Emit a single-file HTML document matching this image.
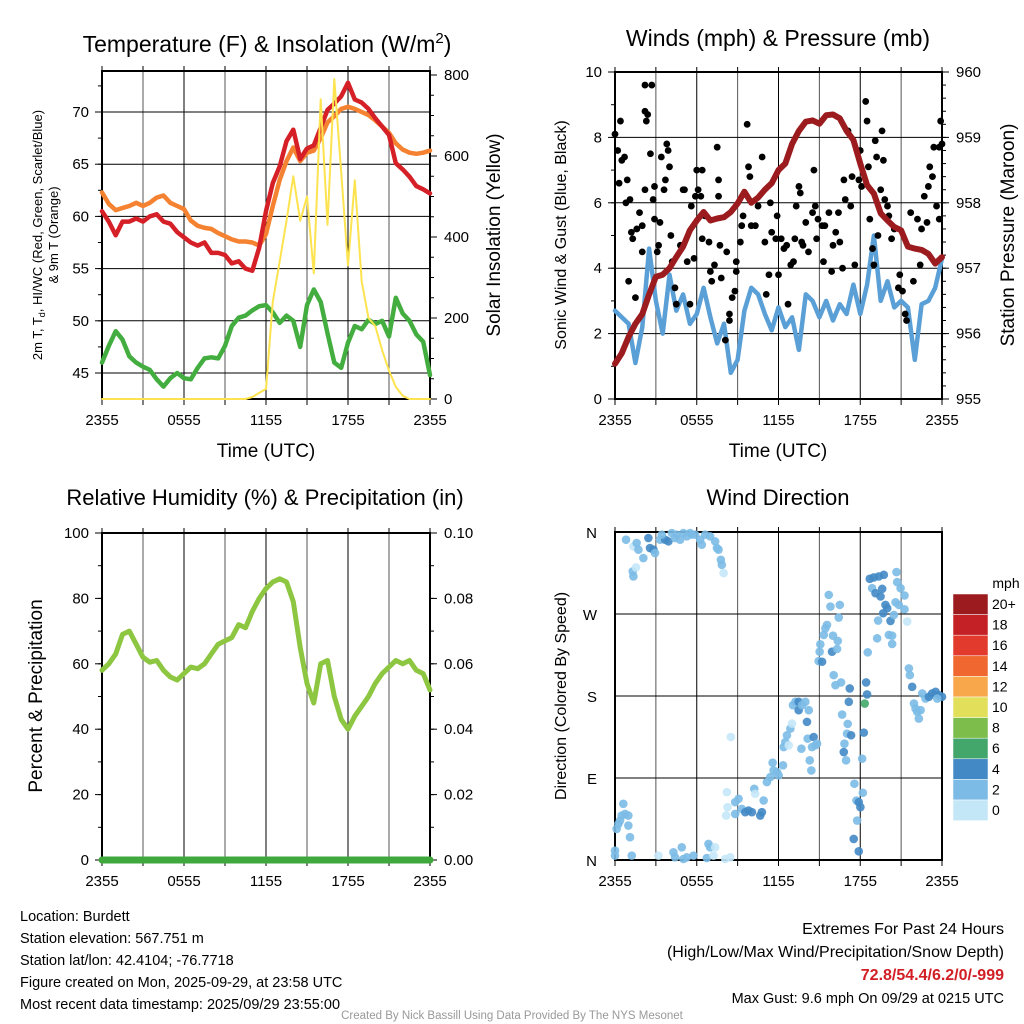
<!DOCTYPE html>
<html><head><meta charset="utf-8"><style>
body{margin:0;background:#fff}
svg{display:block;font-family:"Liberation Sans",Arial,sans-serif}
</style></head><body>
<svg id="s" width="1024" height="1024" xmlns="http://www.w3.org/2000/svg"></svg>
<script>
// ---------- data ----------
const xTickLabels=["2355","0555","1155","1755","2355"];
const temp2m=[60.5,59.5,58.2,59.5,59.5,59.8,59.5,60,60.2,59.5,59.3,58.5,58,57.5,57.2,57.5,56.5,56.5,56.3,55.5,55.7,55.0,54.8,57,60.5,63.2,64.8,67.2,68.3,65.5,66.5,66.8,68.5,70.2,70.8,71.5,72.8,71.2,70.9,70.3,69.4,68.6,67.8,65.1,64.5,63.8,62.9,62.6,62.2];
const temp9m=[62.3,61.2,60.6,60.8,61,61.3,61,61.3,61.8,62,61.3,61,60.7,59.6,59.1,58.9,58.8,58.4,58.1,57.8,57.6,57.6,57.5,57.2,58.3,61,63.5,65.3,66.6,65.3,66.1,66.3,67.5,69,69.6,70.3,70.5,70.3,70,69.7,69.2,68.6,68,67,66.4,66.1,66,66.1,66.3];
const dewpt=[46,47.6,49,48.2,46.6,46,45.6,45.3,44.4,43.7,44.5,45,44.5,44.4,45.5,46.4,46.5,46.4,47.6,49.5,50.3,50.5,51,51.4,51.5,50.8,49.8,50.5,50,47.5,51.5,53,51.8,48.8,46,45.5,47.9,49.5,49.2,50.1,49.7,50,48.5,52.2,50.7,50,48.7,48,44.8];
const solar=[0,0,0,0,0,0,0,0,0,0,0,0,0,0,0,0,0,0,0,0,0,0,5,15,25,240,340,440,550,440,500,310,740,430,790,560,330,540,290,200,180,120,70,30,8,0,0,0,0];
const windSpd=[2.7,2.5,2.3,1.1,2.2,4.6,3.0,2.0,3.8,2.7,3.2,2.3,2.6,3.4,2.5,1.7,2.3,0.8,1.2,2.7,3.4,3.2,2.6,2.1,2.8,2.2,2.5,1.5,3.2,3.0,2.5,3.0,2.4,2.9,2.6,3.5,2.6,3.5,5.0,3.0,3.6,2.8,3.0,2.8,1.2,2.9,3.0,3.4,4.3];
const pressure=[955.54,955.7,955.95,956.15,956.3,956.6,956.87,956.9,957.0,957.17,957.33,957.58,957.73,957.86,957.73,957.76,957.78,957.86,957.99,958.17,958.0,958.08,958.2,958.3,958.5,958.6,958.9,959.1,959.24,959.26,959.21,959.34,959.35,959.29,959.1,958.96,958.6,958.27,958.14,957.84,957.73,957.63,957.58,957.33,957.3,957.28,957.22,957.07,957.17];
const gustT=[0,0.2,0.4,0.3,0.5,0.7,0.9,0.8,1.1,1.0,1.2,1.3,1.5,1.6,1.8,2.0,2.0,2.2,2.2,2.3,2.4,2.2,2.7,2.6,2.8,2.9,2.9,3.1,3.2,3.3,3.4,3.6,3.7,3.8,3.9,4.0,4.1,4.2,4.4,4.5,4.8,5.0,5.1,5.3,5.5,5.6,5.8,5.9,6.0,6.1,6.3,6.4,6.4,6.6,6.9,7.0,7.1,7.3,7.5,7.6,7.6,7.7,7.8,8.1,8.2,8.4,8.4,8.6,8.8,8.9,8.9,9.2,9.3,9.4,9.7,9.8,9.9,10.0,10.3,10.5,10.8,11.0,11.1,11.3,11.4,11.5,11.8,11.9,12.0,12.2,12.4,12.6,12.7,12.9,13.1,13.2,13.3,13.5,13.6,13.7,13.8,14.0,14.2,14.5,14.6,14.7,14.8,14.9,15.2,15.3,15.4,15.7,15.9,16.0,16.2,16.4,16.5,16.7,16.8,16.9,17.1,17.3,17.4,17.6,17.9,18.0,18.1,18.4,18.5,18.6,18.7,18.9,19.0,19.1,19.2,19.3,19.5,19.6,19.7,19.8,20.0,20.1,20.3,20.5,20.8,20.9,21.1,21.3,21.4,21.7,21.9,22.2,22.4,22.5,22.7,22.9,23.0,23.1,23.3,23.4,23.6,23.8,23.8,23.9,24.0];
const gustV=[8.1,7.6,8.5,6.6,7.3,7.4,6.7,6.0,6.1,3.6,5.1,4.9,3.1,5.2,5.7,5.3,4.5,6.4,8.8,8.5,8.7,9.6,9.6,7.5,6.1,6.5,5.5,4.5,4.7,5.4,7.4,6.4,6.7,7.8,7.6,7.1,5.0,4.2,3.4,2.9,4.7,6.4,6.4,4.2,2.9,5.9,4.3,6.2,7.0,6.4,6.2,7.0,4.9,5.6,4.8,3.9,3.6,4.1,7.7,6.7,6.2,4.7,3.7,1.8,4.5,2.6,2.4,3.1,3.3,3.9,4.2,4.8,5.3,5.6,8.4,7.1,6.8,5.3,5.3,5.9,7.4,4.8,3.2,3.8,6.0,5.1,4.9,5.6,3.8,4.9,4.6,4.7,2.9,4.1,4.2,4.9,5.9,6.5,6.3,4.8,4.7,5.4,4.5,5.7,7.0,5.9,4.9,5.5,5.3,4.2,5.3,5.7,3.9,4.7,5.1,5.7,4.8,4.0,6.7,6.1,8.2,5.9,6.8,4.1,6.7,7.6,6.5,9.1,8.5,7.1,5.5,4.6,4.1,7.9,7.4,5.0,6.4,8.2,7.3,6.1,5.9,5.6,4.9,5.2,3.4,3.8,3.3,2.6,2.4,5.7,3.6,5.5,4.1,5.2,6.2,5.4,6.5,7.1,6.8,7.7,5.9,5.5,7.7,8.5,7.8];
const rh=[58,60,63,69,70,66,62,60.5,61,58,56,55,57,59,58.5,60,63,66,67,68,72,71,76,80,83,85,86,85,79,65,54,48,60,61,50,43,40,44,47,50,54,57,59,61,60,61,58,57,52];
const precip=new Array(49).fill(0);
const dirT=[0.81,1.35,1.59,1.72,2.08,2.45,2.57,2.82,2.94,3.31,3.68,3.92,4.17,4.53,4.78,5.02,5.27,5.64,5.88,6.25,6.37,6.62,6.98,7.35,7.48,7.60,7.77,7.84,7.97,1.35,1.30,1.54,3.43,4.41,5.51,
0,0,0.12,0.25,0.37,0.49,0.61,0.74,0.98,0.98,1.10,1.23,3.19,4.29,4.41,4.90,5.02,5.27,5.76,6.74,6.86,6.98,7.23,7.35,8.09,8.46,
8.21,8.26,8.16,8.50,8.82,8.82,9.07,9.31,9.56,9.80,10.05,10.22,10.29,10.66,10.78,10.91,11.15,11.40,11.57,11.64,11.89,12.01,12.33,12.38,12.50,12.62,12.75,12.87,12.99,13.06,13.24,13.48,13.48,13.73,13.97,14.09,14.22,14.14,14.46,14.58,14.71,14.83,13.68,14.29,14.41,
15.69,15.81,16.50,16.42,15.56,15.44,15.32,16.00,16.35,15.07,15.02,15.93,16.30,14.95,15.20,16.05,16.18,16.59,17.23,17.16,16.67,17.08,17.03,17.33,16.84,16.79,16.96,18.14,18.26,18.43,18.50,18.33,18.55,17.57,17.72,17.89,18.01,17.77,17.52,17.89,18.19,
18.70,18.99,19.36,19.73,18.87,19.12,19.61,19.49,19.85,19.98,19.68,20.22,20.47,20.66,20.71,20.96,21.25,20.59,20.83,21.25,21.45,19.31,20.10,20.34,20.34,19.24,
21.57,21.64,21.81,22.55,22.79,23.04,23.28,23.53,23.77,24.0,23.65,21.94,22.06,22.18,22.30,22.43];
const dirDeg=[351.6,344.2,347.9,340.6,331.4,353.4,342.4,340.6,336.9,351.6,351.6,349.7,358.9,357.1,351.6,358.9,355.2,357.1,357.1,351.6,346.1,357.1,355.2,349.7,342.4,340.6,329.5,324.0,314.9,311.2,316.7,321.1,357.1,353.4,358.9,
4.8,10.3,34.1,39.6,43.3,48.8,61.7,50.6,48.8,37.8,25.0,4.8,4.8,8.4,2.9,13.9,1.1,2.9,4.8,2.2,17.6,13.9,4.8,13.9,1.1,2.9,
74.5,58.0,48.8,135.0,63.5,50.6,67.2,56.1,52.5,54.3,52.5,78.2,72.7,48.8,52.5,65.3,85.5,91.0,106.8,98.3,96.5,92.8,103.9,124.0,129.5,136.9,125.9,144.2,149.7,169.9,173.6,173.6,164.4,169.9,173.6,151.6,164.4,133.2,124.0,135.0,125.9,127.7,122.2,109.4,98.3,
291.0,278.2,280.0,266.1,258.0,254.3,247.0,246.2,240.4,236.7,228.6,228.6,231.6,218.3,217.6,202.9,191.9,194.9,188.3,173.6,159.6,149.4,138.7,136.9,127.7,118.5,109.4,111.2,139.8,194.9,181.7,171.7,227.9,83.7,65.3,63.5,58.0,43.3,23.1,9.5,73.8,
308.6,310.1,311.2,313.0,298.3,292.8,297.6,289.2,280.0,276.3,270.8,262.4,269.0,316.0,305.0,298.3,290.3,282.9,280.0,275.2,261.7,262.8,247.0,246.2,237.1,243.3,
210.3,202.9,190.1,182.8,177.2,179.1,182.8,184.6,180.9,179.1,177.2,171.7,166.2,162.6,155.2,164.4];
const dirSpd=[3,1,3,3,3,5,5,5,3,3,5,5,3,3,3,3,3,3,3,3,3,3,3,3,3,3,3,3,1,3,3,1,3,3,3,
3,3,3,3,3,3,3,3,3,3,3,3,1,3,3,3,3,3,3,3,3,3,1,1,1,1,
1,1,1,1,3,3,3,3,5,5,5,3,1,5,5,3,3,3,3,3,3,3,3,3,3,3,1,3,1,3,3,5,5,3,3,5,3,3,3,5,3,3,3,3,3,
3,3,3,3,3,3,3,3,3,3,3,5,3,3,5,3,3,3,5,5,3,3,3,5,3,5,3,3,5,5,5,6.2,3,3,3,5,5,3,5,5,3,
5,5,5,5,3,5,5,5,5,5,5,5,3,3,3,3,3,3,3,3,1,3,3,3,3,3,
3,3,5,3,3,5,5,5,5,5,3,3,3,3,3,3];
const cbLabels=["20+","18","16","14","12","10","8","6","4","2","0"];
const cbColors=["#9b1b1e","#c42126","#e23a2d","#f0682f","#f8a84b","#e2df5b","#7cbd4c","#43a76b","#4389c5","#7bbbe6","#c4e7f8"];

// ---------- helpers ----------
const NS="http://www.w3.org/2000/svg";
const svg=document.getElementById('s');
function el(tag,attrs,parent,txt){const e=document.createElementNS(NS,tag);for(const k in attrs)e.setAttribute(k,attrs[k]);if(txt!==undefined)e.textContent=txt;(parent||svg).appendChild(e);return e;}
function lin(d0,d1,r0,r1){return v=>r0+(v-d0)*(r1-r0)/(d1-d0);}
function speedColor(s){const i=Math.min(10,Math.floor(s/2));return cbColors[10-i];}

function frame(x0,x1,y0,y1,name,yTicks,yFmt,ysc,rTicks,rFmt,rsc,hGrid,yMinor,rMinor){
  const g=el('g',{},svg);
  
  
  const xs=lin(0,24,x0,x1);
  for(let h=0;h<=24;h+=3){const x=xs(h);el('line',{x1:x,y1:y0,x2:x,y2:y1,stroke:(h%6==0)?'#000':'#555','stroke-width':1},g);el('line',{x1:x,y1:y1,x2:x,y2:y1+6,stroke:'#000'},g);el('line',{x1:x,y1:y0,x2:x,y2:y0-5,stroke:'#000'},g);}
  hGrid.forEach(v=>{const y=ysc(v);el('line',{x1:x0,y1:y,x2:x1,y2:y,stroke:'#000','stroke-width':1},g);});
  (yMinor||[]).forEach(v=>{const y=ysc(v);if(y>y0&&y<y1)el('line',{x1:x0-4,y1:y,x2:x0,y2:y,stroke:'#000'},g);});
  (rMinor||[]).forEach(v=>{const y=rsc(v);if(y>y0&&y<y1)el('line',{x1:x1,y1:y,x2:x1+4,y2:y,stroke:'#000'},g);});
  yTicks.forEach(v=>{const y=ysc(v);el('line',{x1:x0-7,y1:y,x2:x0,y2:y,stroke:'#000'},g);
    const t=el('text',{x:x0-13,y:y+5,'text-anchor':'end','font-size':15},g,yFmt(v));});
  rTicks.forEach(v=>{const y=rsc(v);el('line',{x1:x1,y1:y,x2:x1+7,y2:y,stroke:'#000'},g);
    const t=el('text',{x:x1+14,y:y+5,'text-anchor':'start','font-size':15},g,rFmt(v));});
  [0,6,12,18,24].forEach((h,i)=>{const t=el('text',{x:xs(h),y:y1+26,'text-anchor':'middle','font-size':15},g,xTickLabels[i]);});
  el('rect',{x:x0,y:y0,width:x1-x0,height:y1-y0,fill:'none',stroke:'#000','stroke-width':2},g);
  return xs;
}
function series(arr,xs,ys,color,w,name,step){
  let d='';arr.forEach((v,i)=>{d+=(i?'L':'M')+xs(i*(step||0.5)).toFixed(1)+','+ys(v).toFixed(1);});
  const p=el('path',{d:d,fill:'none',stroke:color,'stroke-width':w,'stroke-linejoin':'round','stroke-linecap':'round'});
  return p;
}
function txt(x,y,s,size,opts,name){const t=el('text',Object.assign({x:x,y:y,'font-size':size},opts||{}),svg,s);return t;}
function vtxt(x,y,s,size,name){const t=el('text',{x:0,y:0,'font-size':size,'text-anchor':'middle',transform:`translate(${x},${y}) rotate(-90)`},svg,s);return t;}
function range(a,b,s){const r=[];for(let v=a;v<=b+1e-9;v+=s)r.push(+v.toFixed(4));return r;}

// ---------- panel 1 ----------
{const x0=102,x1=430,y0=71,y1=399;
 const ys=lin(45,70,373,112), rs=lin(0,800,399,75);
 const xs=frame(x0,x1,y0,y1,'temperature',[45,50,55,60,65,70],v=>v,ys,[0,200,400,600,800],v=>v,rs,[45,50,55,60,65,70],range(42.5,72.5,2.5),range(0,800,50));
 series(temp9m,xs,ys,'#f58230',4.5,'temp-9m-line');
 series(temp2m,xs,ys,'#d62027',4.5,'temp-2m-line');
 series(dewpt,xs,ys,'#43ae3f',4.5,'dewpoint-line');
 series(solar,xs,rs,'#fce34f',2,'solar-insolation-line');
 const t=txt(267,52,'Temperature (F) & Insolation (W/m',23,{'text-anchor':'middle'},'temperature-title');
 el('tspan',{dy:-9,'font-size':15},t,'2');el('tspan',{dy:9},t,')');
 txt(266,457,'Time (UTC)',19,{'text-anchor':'middle'},'x-axis-title');
 const yt=vtxt(42,235,'2m T, T',13,'y-axis-title');
 el('tspan',{dy:3,'font-size':9},yt,'d');el('tspan',{dy:-3},yt,', HI/WC (Red, Green, Scarlet/Blue)');
 vtxt(58,235,'& 9m T (Orange)',13,'y-axis-title-2');
 vtxt(500,235,'Solar Insolation (Yellow)',19,'right-axis-title');}

// ---------- panel 2 ----------
{const x0=615,x1=942,y0=72,y1=399;
 const ys=lin(0,10,399,72), rs=lin(955,960,399,72);
 const xs=frame(x0,x1,y0,y1,'winds',[0,2,4,6,8,10],v=>v,ys,[955,956,957,958,959,960],v=>v,rs,[0,2,4,6,8,10],range(0,10,1),range(955,960,0.2));
 series(windSpd,xs,ys,'#5a9fd6',4.5,'wind-speed-line');
 gustT.forEach((t,i)=>{const c=el('circle',{cx:xs(t),cy:ys(gustV[i]),r:3.4,fill:'#000'});});
 series(pressure,xs,rs,'#9b1b1e',6,'pressure-line');
 txt(778,46,'Winds (mph) & Pressure (mb)',23,{'text-anchor':'middle'},'winds-title');
 txt(778,457,'Time (UTC)',19,{'text-anchor':'middle'},'x-axis-title');
 vtxt(566,235,'Sonic Wind & Gust (Blue, Black)',16,'y-axis-title');
 vtxt(1014,235,'Station Pressure (Maroon)',19,'right-axis-title');}

// ---------- panel 3 ----------
{const x0=102,x1=430,y0=533,y1=860;
 const ys=lin(0,100,860,533), rs=lin(0,0.1,860,533);
 const xs=frame(x0,x1,y0,y1,'humidity',[0,20,40,60,80,100],v=>v,ys,[0,0.02,0.04,0.06,0.08,0.1],v=>v.toFixed(2),rs,[],range(0,100,10),range(0,0.1,0.01));
 series(rh,xs,ys,'#8dc641',5,'rh-line');
 series(precip,xs,rs,'#3ea83d',7,'precip-line');
 txt(265,505,'Relative Humidity (%) & Precipitation (in)',22,{'text-anchor':'middle'},'humidity-title');
 vtxt(42,696,'Percent & Precipitation',19,'y-axis-title');}

// ---------- panel 4 ----------
{const x0=615,x1=942,y0=532,y1=860;
 const ys=lin(0,360,860,532);
 const dirLabels=['N','E','S','W','N'];
 const xs=frame(x0,x1,y0,y1,'wind-direction',[],v=>v,ys,[],v=>v,ys,[0,90,180,270,360]);
 [0,90,180,270,360].forEach((v,i)=>{txt(597,ys(v)+6,dirLabels[i],15,{'text-anchor':'end'},'direction-tick-label');});
 dirT.forEach((t,i)=>{const c=el('circle',{cx:xs(t),cy:ys(dirDeg[i]),r:4.3,fill:speedColor(dirSpd[i]),'fill-opacity':0.9});});
 txt(778,505,'Wind Direction',22,{'text-anchor':'middle'},'direction-title');
 vtxt(566,696,'Direction (Colored By Speed)',16,'y-axis-title');
 txt(1006,588,'mph',14,{'text-anchor':'middle'},'colorbar-title');
 cbColors.forEach((c,i)=>{const y=594+i*20.6;const r=el('rect',{x:953,y:y,width:35,height:20.6,fill:c,stroke:'#fff','stroke-width':0.5});
   txt(992,y+15,cbLabels[i],14,{},'colorbar-label');});}

// ---------- footer ----------
const foot=["Location: Burdett","Station elevation: 567.751 m","Station lat/lon: 42.4104; -76.7718","Figure created on Mon, 2025-09-29, at 23:58 UTC","Most recent data timestamp: 2025/09/29 23:55:00"];
foot.forEach((s,i)=>txt(20,921+i*22,s,14.5,{},'station-info-line'));
txt(1004,934,'Extremes For Past 24 Hours',16,{'text-anchor':'end'},'extremes-title');
txt(1004,957,'(High/Low/Max Wind/Precipitation/Snow Depth)',16,{'text-anchor':'end'},'extremes-subtitle');
txt(1004,980,'72.8/54.4/6.2/0/-999',16,{'text-anchor':'end',fill:'#d21f26','font-weight':'bold'},'extremes-values');
txt(1004,1003,'Max Gust: 9.6 mph On 09/29 at 0215 UTC',14.5,{'text-anchor':'end'},'max-gust');
txt(512,1019,'Created By Nick Bassill Using Data Provided By The NYS Mesonet',11.5,{'text-anchor':'middle',fill:'#999'},'credits');
</script>
</body></html>
